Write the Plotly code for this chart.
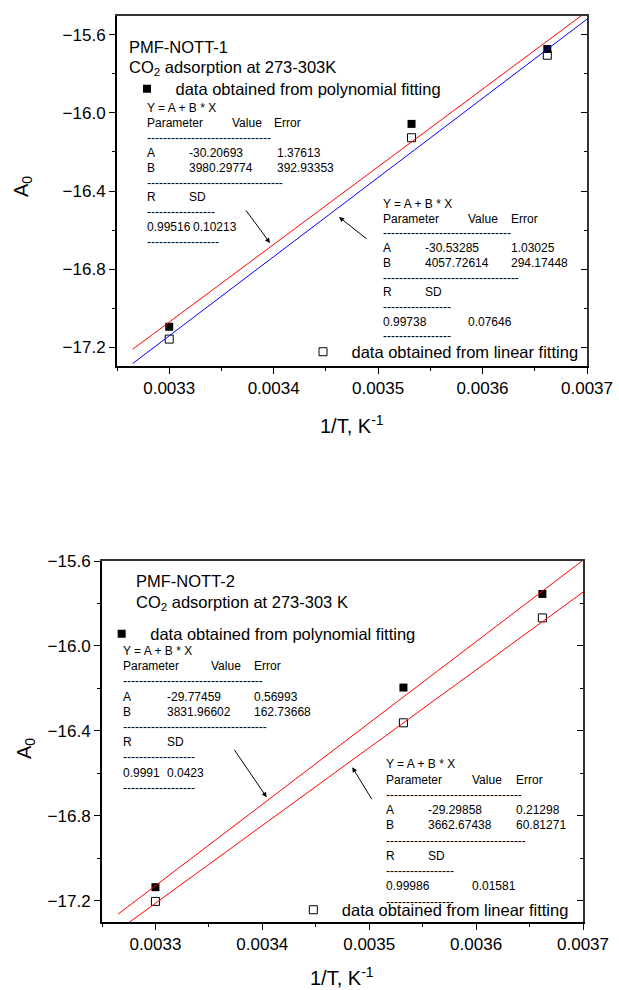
import plotly.graph_objects as go

W, H = 619, 990
FONT = "Arial, 'Liberation Sans', sans-serif"

# ---------------- data ----------------
inv_T = [0.0033, 0.003532, 0.003662]
p1_poly = [-17.096, -16.056, -15.672]
p1_lin = [-17.159, -16.127, -15.704]
p2_poly = [-17.136, -16.196, -15.755]
p2_lin = [-17.203, -16.362, -15.868]

# fit parameters (value, error) as printed in the chart
p1_poly_A = [-30.20693, 1.37613]
p1_poly_B = [3980.29774, 392.93353]
p1_poly_R_SD = ["0.99516", "0.10213"]
p1_lin_A = [-30.53285, 1.03025]
p1_lin_B = [4057.72614, 294.17448]
p1_lin_R_SD = ["0.99738", "0.07646"]
p2_poly_A = [-29.77459, 0.56993]
p2_poly_B = [3831.96602, 162.73668]
p2_poly_R_SD = ["0.9991", "0.0423"]
p2_lin_A = [-29.29858, 0.21298]
p2_lin_B = [3662.67438, 60.81271]
p2_lin_R_SD = ["0.99986", "0.01581"]

fit_x = [0.003265, 0.0037]

x_ticks = [0.0033, 0.0034, 0.0035, 0.0036, 0.0037]
x_ticklabels = ["0.0033", "0.0034", "0.0035", "0.0036", "0.0037"]
y_ticks = [-17.2, -16.8, -16.4, -16.0, -15.6]
y_ticklabels = ["\u221217.2", "\u221216.8", "\u221216.4", "\u221216.0", "\u221215.6"]

poly_name = "data obtained from polynomial fitting"
lin_name = "data obtained from linear fitting"

# ---------------- geometry (pixels) ----------------
P1 = dict(l=117, r=587, t=16, b=366)
P2 = dict(l=102, r=583, t=561, b=922)


def dom(p):
    return [p["l"] / W, p["r"] / W], [1 - p["b"] / H, 1 - p["t"] / H]


def line_y(A, B):
    return [A[0] + B[0] * x for x in fit_x]


fig = go.Figure()

sq_fill = dict(symbol="square", size=8, color="black", line=dict(width=0))
sq_open = dict(symbol="square-open", size=8, color="black", line=dict(width=1))

# panel 1
fig.add_trace(go.Scatter(x=inv_T, y=p1_poly, mode="markers", marker=sq_fill, name=poly_name,
                         xaxis="x", yaxis="y", legend="legend"))
fig.add_trace(go.Scatter(x=inv_T, y=p1_lin, mode="markers", marker=sq_open, name=lin_name,
                         xaxis="x", yaxis="y", legend="legend2"))
fig.add_trace(go.Scatter(x=fit_x, y=line_y(p1_poly_A, p1_poly_B), mode="lines",
                         line=dict(color="red", width=1), showlegend=False, xaxis="x", yaxis="y"))
fig.add_trace(go.Scatter(x=fit_x, y=line_y(p1_lin_A, p1_lin_B), mode="lines",
                         line=dict(color="blue", width=1), showlegend=False, xaxis="x", yaxis="y"))
# panel 2
fig.add_trace(go.Scatter(x=inv_T, y=p2_poly, mode="markers", marker=sq_fill, name=poly_name,
                         xaxis="x2", yaxis="y2", legend="legend3"))
fig.add_trace(go.Scatter(x=inv_T, y=p2_lin, mode="markers", marker=sq_open, name=lin_name,
                         xaxis="x2", yaxis="y2", legend="legend4"))
fig.add_trace(go.Scatter(x=fit_x, y=line_y(p2_poly_A, p2_poly_B), mode="lines",
                         line=dict(color="red", width=1), showlegend=False, xaxis="x2", yaxis="y2"))
fig.add_trace(go.Scatter(x=fit_x, y=line_y(p2_lin_A, p2_lin_B), mode="lines",
                         line=dict(color="red", width=1), showlegend=False, xaxis="x2", yaxis="y2"))
# empty traces hosting the top / right frame axes (right axis has inward ticks)
fig.add_trace(go.Scatter(x=[], y=[], showlegend=False, xaxis="x3", yaxis="y3"))
fig.add_trace(go.Scatter(x=[], y=[], showlegend=False, xaxis="x4", yaxis="y4"))

tickfont = dict(family=FONT, size=17, color="black")


def xaxis(p, anchor):
    d, _ = dom(p)
    return dict(domain=d, anchor=anchor, range=[0.00325, 0.0037], tickmode="array",
                tickvals=x_ticks, ticktext=x_ticklabels, ticks="outside", ticklen=6, tickwidth=1,
                tickcolor="black", tickfont=tickfont, showline=True, linecolor="black", linewidth=2,
                mirror=False, showgrid=False, zeroline=False, automargin=False,
                minor=dict(tick0=0.00325, dtick=0.00005, ticks="outside", ticklen=3,
                           tickcolor="black", tickwidth=1, showgrid=False))


def yaxis(p, anchor, rng):
    _, d = dom(p)
    return dict(domain=d, anchor=anchor, range=rng, tickmode="array",
                tickvals=y_ticks, ticktext=y_ticklabels, ticks="outside", ticklen=6, tickwidth=1,
                tickcolor="black", tickfont=tickfont, showline=True, linecolor="black", linewidth=2,
                mirror=False, showgrid=False, zeroline=False, automargin=False,
                minor=dict(tick0=-15.6, dtick=0.2, ticks="outside", ticklen=3,
                           tickcolor="black", tickwidth=1, showgrid=False))


def xtop(overlay, anchor):
    return dict(overlaying=overlay, anchor=anchor, side="top", range=[0.00325, 0.0037],
                showline=True, linecolor="#333333", linewidth=1.5, ticks="",
                showticklabels=False, showgrid=False, zeroline=False, automargin=False)


def yright(overlay, anchor, rng):
    return dict(overlaying=overlay, anchor=anchor, side="right", range=rng, tickmode="array",
                tickvals=y_ticks, ticks="inside", ticklen=6, tickwidth=1, tickcolor="black",
                showticklabels=False, showline=True, linecolor="#333333", linewidth=1.5,
                showgrid=False, zeroline=False, automargin=False,
                minor=dict(tick0=-15.6, dtick=0.2, ticks="inside", ticklen=3,
                           tickcolor="black", tickwidth=1, showgrid=False))


r1 = [-17.297, -15.503]
r2 = [-17.3, -15.6]

legfont = dict(family=FONT, size=16.5, color="black")


def leg(mx, my):
    return dict(x=(mx - 28.5) / W, y=1 - my / H, xanchor="left", yanchor="middle",
                font=legfont, bgcolor="rgba(0,0,0,0)", borderwidth=0, itemwidth=47,
                tracegroupgap=0)


ann = []


def T(x, y, s, size=12, xanchor="left", **kw):
    ann.append(dict(xref="paper", yref="paper", x=x / W, y=1 - y / H, text=s, showarrow=False,
                    xanchor=xanchor, yanchor="middle", borderpad=0, borderwidth=0,
                    font=dict(family=FONT, size=size, color="black"), **kw))


def arrow(hx, hy, tx, ty):
    ann.append(dict(xref="paper", yref="paper", x=hx / W, y=1 - hy / H, ax=tx - hx, ay=ty - hy,
                    text="", showarrow=True, arrowhead=2, arrowsize=1, arrowwidth=1,
                    arrowcolor="black", standoff=0, startstandoff=0))


def fmt(v):
    return f"{v:.5f}"


def table(x0, y0, dy, c2, cval, c3, cerr, csd, A, B, RSD, dashes):
    ys = [y0 + i * dy for i in range(10)]
    T(x0, ys[0], "Y = A + B * X")
    T(x0, ys[1], "Parameter")
    T(cval, ys[1], "Value")
    T(cerr, ys[1], "Error")
    T(x0, ys[2], "-" * dashes[0])
    T(x0, ys[3], "A")
    T(c2, ys[3], fmt(A[0]))
    T(c3, ys[3], fmt(A[1]))
    T(x0, ys[4], "B")
    T(c2, ys[4], fmt(B[0]))
    T(c3, ys[4], fmt(B[1]))
    T(x0, ys[5], "-" * dashes[1])
    T(x0, ys[6], "R")
    T(c2, ys[6], "SD")
    T(x0, ys[7], "-" * dashes[2])
    T(x0, ys[8], RSD[0])
    T(csd, ys[8], RSD[1])
    T(x0, ys[9], "-" * dashes[3])


# panel 1 texts
T(129, 47, "PMF-NOTT-1", size=16.5)
T(129, 68, "CO<sub>2</sub> adsorption at 273-303K", size=16.5)
table(147, 108, 14.9, 189, 232, 277, 274, 193, p1_poly_A, p1_poly_B, p1_poly_R_SD, [31, 34, 17, 18])
table(383, 204, 14.7, 425, 468, 511, 511, 468, p1_lin_A, p1_lin_B, p1_lin_R_SD, [32, 34, 17, 17])
arrow(270, 243, 245, 209)
arrow(339, 217, 368, 240)
T(22, 187, "A<sub>0</sub>", size=20, xanchor="center", textangle=-90)
T(352, 424, "1/T, K<sup>-1</sup>", size=20, xanchor="center")

# panel 2 texts
T(136, 581, "PMF-NOTT-2", size=16.5)
T(136, 603, "CO<sub>2</sub> adsorption at 273-303 K", size=16.5)
table(123.3, 651, 15.2, 166.7, 210.7, 254, 254.3, 166.7, p2_poly_A, p2_poly_B, p2_poly_R_SD, [35, 36, 18, 18])
table(385.7, 764.3, 15.27, 428.3, 472.3, 515.7, 515.7, 472, p2_lin_A, p2_lin_B, p2_lin_R_SD, [34, 35, 17, 17])
arrow(266.7, 797.3, 233.3, 748.3)
arrow(352.3, 767.3, 372.7, 800.7)
T(25, 749, "A<sub>0</sub>", size=20, xanchor="center", textangle=-90)
T(342, 976, "1/T, K<sup>-1</sup>", size=20, xanchor="center")

fig.update_layout(
    width=W, height=H, margin=dict(l=0, r=0, t=0, b=0),
    paper_bgcolor="white", plot_bgcolor="white",
    font=dict(family=FONT, color="black"),
    xaxis=xaxis(P1, "y"), yaxis=yaxis(P1, "x", r1),
    xaxis2=xaxis(P2, "y2"), yaxis2=yaxis(P2, "x2", r2),
    xaxis3=xtop("x", "y3"), yaxis3=yright("y", "x3", r1),
    xaxis4=xtop("x2", "y4"), yaxis4=yright("y2", "x4", r2),
    legend=leg(147, 89), legend2=leg(323, 352),
    legend3=leg(121.7, 634), legend4=leg(313.3, 910),
    annotations=ann,
)

fig.write_html("out.html")
